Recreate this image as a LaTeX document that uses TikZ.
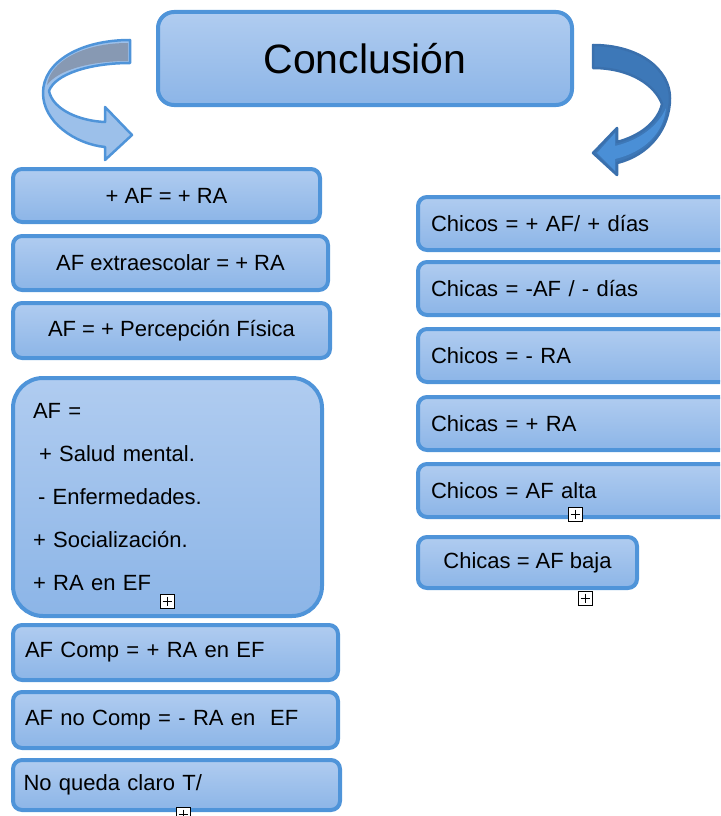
\documentclass[tikz,border=0pt]{standalone}
\usepackage{fontspec}
\setmainfont{Liberation Sans}
\definecolor{rimblue}{HTML}{4F94D9}
\definecolor{topblue}{HTML}{B0CCF0}
\definecolor{botblue}{HTML}{8CB5E7}
\definecolor{darkrim}{HTML}{3A70AD}
\definecolor{darkribbon}{HTML}{3D78B8}
\definecolor{midribbon}{HTML}{4A8FD6}
\definecolor{grayribbon}{HTML}{8799B3}
\definecolor{lightribbon}{HTML}{9CC0EA}
\begin{document}
\begin{tikzpicture}[x=1pt,y=-1pt,
    box/.style={draw=rimblue, line width=4pt, rounded corners=9pt,
      top color=topblue, bottom color=botblue, inner sep=0pt,
      font=\fontsize{22}{26}\selectfont},
    expander/.style={draw=black, fill=white, line width=1pt,
      minimum size=14pt, inner sep=0pt,
      path picture={\draw[line width=1pt]
        ([yshift=-2.5pt]path picture bounding box.north) --
        ([yshift=2.5pt]path picture bounding box.south)
        ([xshift=2.5pt]path picture bounding box.west) --
        ([xshift=-2.5pt]path picture bounding box.east);}}]
  \useasboundingbox (0,0) rectangle (720,816);
  \clip (0,0) rectangle (720,816);
  \node[box, rounded corners=16pt, minimum width=414, minimum height=93,
    font=\fontsize{41}{48}\selectfont] (titulo) at (365,58.5) {Conclusión};
  % left ribbon
  \draw[rimblue, line width=2.5pt, fill=lightribbon, line join=round]
    (130,40) .. controls (80,40) and (43,62) .. (43,93)
    .. controls (43,122) and (75,144) .. (105,147) -- (105,160) -- (132,135)
    -- (105,107) -- (105,122) .. controls (80,121) and (53,110) .. (49,91)
    .. controls (55,74) and (90,63) .. (130,63) -- cycle;
  \fill[grayribbon] (128,43) .. controls (82,43) and (50,62) .. (47,85)
    .. controls (58,70) and (90,61) .. (128,61) -- cycle;
  % right ribbon
  \draw[darkrim, line width=2.5pt, fill=darkribbon, line join=round]
    (593,45) .. controls (640,45) and (670,70) .. (670,98)
    .. controls (670,128) and (650,155) .. (617,163) -- (617,175) -- (593,153)
    -- (617,128) -- (617,142) .. controls (640,136) and (658,122) .. (662,104)
    .. controls (655,85) and (630,68) .. (593,68) -- cycle;
  \fill[midribbon] (666,108) .. controls (664,132) and (645,152) .. (615,159)
    -- (615,171) -- (597,153) -- (615,133) -- (615,146)
    .. controls (640,140) and (658,126) .. cycle;
  % left column
  \node[box, minimum width=307, minimum height=53] (masaf) at (166.5,195.5) {+ AF = + RA};
  \node[box, minimum width=315, minimum height=54] (extra) at (170.5,263) {AF extraescolar = + RA};
  \node[box, minimum width=317, minimum height=55] (percep) at (171.5,330.5) {AF = + Percepción Física};
  \node[box, rounded corners=30pt, minimum width=309, minimum height=238,
    text width=269, align=left, font=\fontsize{22}{43}\selectfont] (salud) at (167.5,497)
    {AF =\\\hspace{6pt}+ Salud mental.\\\hspace{5pt}- Enfermedades.\\+ Socialización.\\+ RA en EF};
  \node[box, minimum width=325, minimum height=55, text width=301, align=left] (comp) at (175.5,652.5) {AF Comp = + RA en EF};
  \node[box, minimum width=325, minimum height=56, text width=301, align=left] (nocomp) at (175.5,720) {AF no Comp = - RA en \ EF};
  \node[box, minimum width=327, minimum height=50, text width=306, align=left] (claro) at (176.5,785) {No queda claro T/};
  \node[expander] (exsalud) at (167,601) {};
  \node[expander] (exclaro) at (183,814) {};
  % right column
  \foreach \y/\txt [count=\i] in {223.5/{Chicos = + AF/ + días},
      288.5/{Chicas = -AF / - días}, 355.5/{Chicos = - RA},
      423.5/{Chicas = + RA}, 490.5/{\raisebox{-5pt}{Chicos = AF alta}}} {
    \node[box, minimum width=322, minimum height=53, text width=296, align=left]
      (chic\i) at (579,\y) {\txt};
  }
  \node[box, minimum width=219, minimum height=51] (baja) at (527.5,562.5) {Chicas = AF baja};
  \node[expander] (exalta) at (575,514) {};
  \node[expander] (exbaja) at (585,598) {};
\end{tikzpicture}
\end{document}
